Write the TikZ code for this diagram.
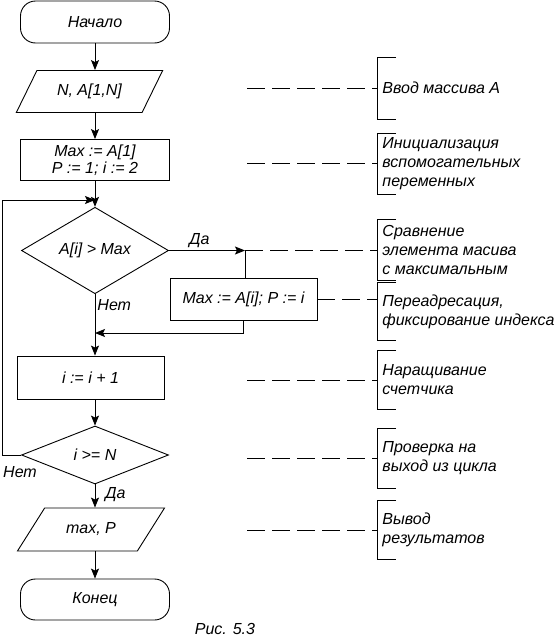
\documentclass[tikz,border=0pt]{standalone}
\usepackage{fontspec}
\setmainfont{Liberation Sans}
\usetikzlibrary{shapes.geometric, arrows.meta, positioning, calc}

\begin{document}
\begin{tikzpicture}[x=1pt, y=-1pt, line width=0.9pt,
    every node/.style={font=\fontsize{16}{19}\selectfont\itshape},
    term/.style={rectangle, rounded corners=15pt, draw, minimum width=149pt, minimum height=42pt},
    io/.style={trapezium, trapezium left angle=57, trapezium right angle=123, trapezium stretches=true, draw, minimum width=147pt, minimum height=42pt},
    proc/.style={rectangle, draw, minimum width=147pt, minimum height=42pt, align=center},
    cond/.style={diamond, draw, inner sep=0pt, minimum width=147pt, minimum height=57pt},
    note/.style={anchor=west, align=left, minimum height=60pt, inner xsep=5pt},
    arrow/.style={-{Stealth[length=10pt, width=8pt, inset=2pt]}},
    guide/.style={dash pattern=on 18pt off 7pt},
    tag/.style={inner sep=2pt}
]
\useasboundingbox (0,0) rectangle (559,640);

% Blocks
\node[term] (start) at (95, 22) {Начало};
\node[io] (in) at (89.5, 91.5) {N, A[1,N]};
\node[proc, minimum width=149pt, minimum height=41pt, font=\fontsize{16}{17}\selectfont\itshape] (init) at (95, 160) {Max := A[1]\\P := 1; i := 2};
\node[cond] (cmp) at (95, 250.5) {A[i] > Max};
\node[proc] (upd) at (243.5, 299) {Max := A[i]; P := i};
\node[proc, minimum height=43pt] (inc) at (90.5, 377.5) {i := i + 1};
\node[cond, minimum height=58pt] (chk) at (95, 455) {i >= N};
\node[io, trapezium left angle=50, trapezium right angle=130, minimum width=148pt, minimum height=43pt] (out) at (91, 529.5) {max, P};
\node[term, minimum height=41pt] (stop) at (95, 599.5) {Конец};

% Helper points
\coordinate (join) at (95, 200);
\coordinate (yes) at (245, 250.5);
\coordinate (merge) at (95, 333);
\coordinate (back) at (2, 455);

% Flow
\draw[arrow] (start.south) -- (start.south |- in.north);
\draw[arrow] (start.south |- in.south) -- (init.north);
\draw[arrow] (init.south) -- (cmp.north);
\draw[arrow] (cmp.east) -- node[above, tag, pos=0.4] {Да} (yes);
\draw (yes) -- (yes |- upd.north);
\draw[arrow] (upd.south) |- (merge);
\draw[arrow] (cmp.south) -- node[right, tag, pos=0.18] {Нет} (cmp.south |- inc.north);
\draw[arrow] (cmp.south |- inc.south) -- (chk.north);
\draw[arrow] (chk.west) -- (back) |- (join);
\node[tag] (no) at (20, 472) {Нет};
\draw[arrow] (chk.south) -- node[right, tag, pos=0.45, xshift=8pt] {Да} (chk.south |- out.north);
\draw[arrow] (chk.south |- out.south) -- (stop.north);

% Comments
\node[note, minimum height=61pt] (n1) at (377, 88) {Ввод массива А};
\node[note] (n2) at (377, 163.5) {Инициализация\\вспомогательных\\переменных};
\node[note] (n3) at (377, 249.5) {Сравнение\\элемента масива\\с максимальным};
\node[note, minimum height=57pt] (n4) at (377, 311.5) {Переадресация,\\фиксирование индекса};
\node[note, minimum height=58pt] (n5) at (377, 380) {Наращивание\\счетчика};
\node[note, minimum height=59pt] (n6) at (377, 458.5) {Проверка на\\выход из цикла};
\node[note, minimum height=58pt] (n7) at (377, 530) {Вывод\\результатов};

\foreach \n in {1,...,7}
    \draw ([xshift=19pt]n\n.north west) -- (n\n.north west) -- (n\n.south west) -- ([xshift=19pt]n\n.south west);
\foreach \n in {1,2,5,6,7}
    \draw[guide] ([xshift=-130pt]n\n.west) -- (n\n.west);
\draw[guide] (yes) -- (yes -| n3.west);
\draw[guide] (upd.east) -- (upd.east -| n4.west);

\node (cap) at (225, 629) {Рис. 5.3};

\end{tikzpicture}
\end{document}
